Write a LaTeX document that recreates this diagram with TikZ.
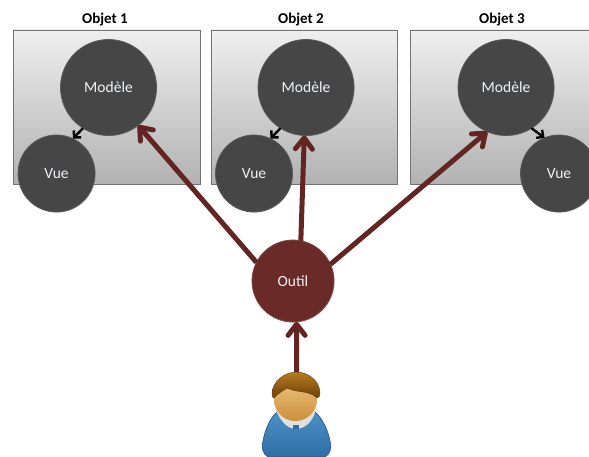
\documentclass[tikz,border=0pt]{standalone}
\usepackage{fontspec}
\setmainfont{Carlito}
\usetikzlibrary{positioning}
\usetikzlibrary{arrows.meta}
\usetikzlibrary{shadows}
\definecolor{boxtop}{HTML}{EFEFEF}
\definecolor{boxbottom}{HTML}{B2B2B2}
\definecolor{disc}{HTML}{464646}
\definecolor{outilred}{HTML}{6A2A27}
\definecolor{arrowred}{HTML}{632523}
\definecolor{labeltext}{HTML}{EEF2F6}
\definecolor{skintop}{HTML}{EEC680}
\definecolor{skinbottom}{HTML}{CC8E3A}
\definecolor{hairtop}{HTML}{B67C20}
\definecolor{hairbottom}{HTML}{6E3F08}
\definecolor{bodytop}{HTML}{4A90C6}
\definecolor{bodybottom}{HTML}{2F6FA6}
\tikzset{
  objetbox/.style={rectangle,draw=black!55,line width=0.8pt,top color=boxtop,bottom color=boxbottom,minimum height=154pt,inner sep=0pt,outer sep=0pt,drop shadow={shadow xshift=0.7pt,shadow yshift=-0.7pt,opacity=0.3}},
  disque/.style={circle,draw=black!65!white,line width=0.8pt,fill=disc,text=labeltext,font=\fontsize{15.5}{18}\selectfont,text height=10pt,text depth=0pt,inner sep=0pt,outer sep=0pt,drop shadow={shadow xshift=0.7pt,shadow yshift=-0.7pt,opacity=0.3}},
  modele/.style={disque,minimum size=96pt},
  vue/.style={disque,minimum size=77pt},
  outil/.style={disque,draw=outilred!85!white,fill=outilred,minimum size=82pt},
  titre/.style={font=\fontsize{15}{18}\selectfont\bfseries,text=black,inner sep=0pt},
  lien/.style={draw=black,line width=2.4pt,-{Straight Barb[length=5pt,width=10pt,line width=2.4pt]}},
  action/.style={draw=arrowred,line width=5pt,-{Straight Barb[length=11pt,width=17pt,line width=5pt,round]}},
}
\begin{document}
\begin{tikzpicture}[x=1pt,y=-1pt]
\path[use as bounding box] (0,0) rectangle (589,457);
\clip (0,0) rectangle (589,457);
\fill[white] (0,0) rectangle (589,457);

\node[objetbox,minimum width=187pt] (boite1) at (106.5,107) {};
\node[objetbox,minimum width=186pt] (boite2) at (304,107) {};
\node[objetbox,minimum width=190pt] (boite3) at (505.5,107) {};
\node[titre] (titre1) at (105,19.5) {Objet 1};
\node[titre] (titre2) at (301,20) {Objet 2};
\node[titre] (titre3) at (502,20) {Objet 3};

\node[modele] (modele1) at (108.5,87.5) {Modèle};
\node[vue] (vue1) at (56.5,173.5) {Vue};
\node[modele] (modele2) at (306,87.5) {Modèle};
\node[vue] (vue2) at (254,173.5) {Vue};
\node[modele] (modele3) at (506,87.5) {Modèle};
\node[vue] (vue3) at (559,173.5) {Vue};
\node[outil] (outil) at (293,281) {Outil};

\draw[lien] (modele1.-122) -- (vue1.65);
\draw[lien] (modele2.-122) -- (vue2.65);
\draw[lien] (modele3.-58) -- (vue3.112);

\draw[action] (outil.153) -- (modele1.-52);
\draw[action] (outil.79) -- (modele2.-92);
\draw[action] (outil.24) -- (modele3.-113);

% utilisateur
\coordinate (tete) at (296.6,372);
\draw[top color=bodytop,bottom color=bodybottom,draw=bodybottom!80!black,line width=0.7pt]
  (268,457) .. controls (263,454) and (261,448) .. (263,441) .. controls (265,430) and (270,418) .. (277,412)
  -- (315,412) .. controls (322,418) and (328,430) .. (330,441) .. controls (332,448) and (330,454) .. (325,457) -- cycle;
\fill[black!12] (276,410) .. controls (281,423) and (289,429) .. (296,429) .. controls (304,429) and (312,423) .. (316,410) -- cycle;
\fill[bodybottom] (293,425) rectangle (299,429);
\node[circle,draw=none,inner sep=0pt,minimum width=43pt,minimum height=43pt,top color=skintop,bottom color=skinbottom] (visage) at (295.5,399.5) {};
\draw[top color=hairtop,bottom color=hairbottom,draw=hairbottom,line width=0.4pt]
  (tete) .. controls (285,372) and (272,381) .. (272,394) .. controls (272,397) and (273,398) .. (274,398)
  .. controls (277,394) and (283,391) .. (287,388) .. controls (296,393) and (309,390) .. (317,398)
  .. controls (319,398) and (320,396) .. (320,393) .. controls (320,381) and (308,372) .. (tete) -- cycle;

\draw[action] (tete) -- (outil.-85);
\end{tikzpicture}
\end{document}
